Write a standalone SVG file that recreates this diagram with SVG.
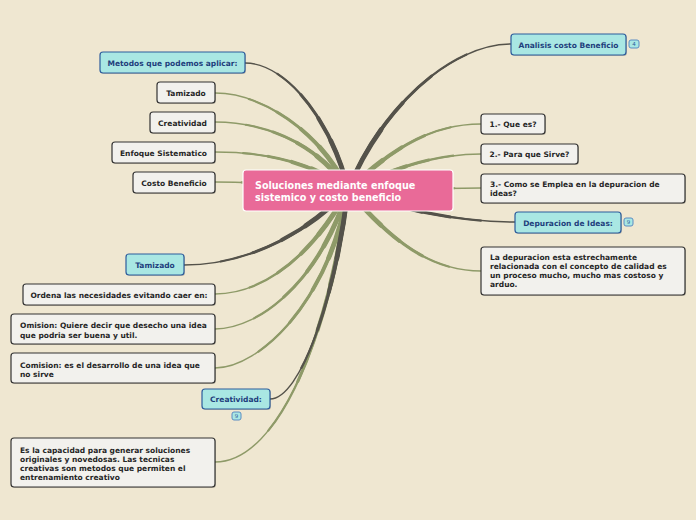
<svg xmlns="http://www.w3.org/2000/svg" xmlns:xlink="http://www.w3.org/1999/xlink" width="696" height="520" viewBox="0 0 696 520">
<style>
  .bg{fill:#efe7d1}
  .w rect.b{fill:#f2f1ed;stroke:#333;stroke-width:1.2}
  .c rect.b{fill:#a9e7e3;stroke:#2d5c9c;stroke-width:1.2}
  rect.s{fill:#000;opacity:0.18}
  .w text{font-family:"DejaVu Sans",Verdana,sans-serif;font-weight:bold;font-size:7.5px;fill:#262626}
  .c text{font-family:"DejaVu Sans",Verdana,sans-serif;font-weight:bold;font-size:7.5px;fill:#1e3e7c}
  .m{text-anchor:middle}
  .root text{font-family:"DejaVu Sans",Verdana,sans-serif;font-weight:bold;font-size:9.6px;fill:#fff}
  .badge rect{fill:#a9e7e3;stroke:#5b8cc2;stroke-width:1}
  .badge text{font-family:"DejaVu Sans",sans-serif;font-size:5.5px;fill:#2d5c9c;text-anchor:middle}
  .g{stroke:#8e9a68;fill:none;stroke-linecap:round}
  .d{stroke:#54524a;fill:none;stroke-linecap:round}
  .t1{stroke-width:1.4}
  .t2{stroke-width:2.2;stroke-dasharray:80 200}
  .t3{stroke-width:3;stroke-dasharray:62 200}
  .t4{stroke-width:3.9;stroke-dasharray:45 200}
  .t5{stroke-width:4.8;stroke-dasharray:30 200}
</style>
<defs>
  <path id="p1" pathLength="100" d="M348 190 C335 130 290 63 245 63"/>
  <path id="p2" pathLength="100" d="M348 190 C320 130 260 93 215 93"/>
  <path id="p3" pathLength="100" d="M348 190 C315 140 260 122 215 122"/>
  <path id="p4" pathLength="100" d="M348 190 C310 160 260 152 215 152"/>
  <path id="p5" pathLength="100" d="M348 190 C300 185 260 182 215 182"/>
  <path id="p6" pathLength="100" d="M348 190 C300 240 240 265 184 265"/>
  <path id="p7" pathLength="100" d="M348 190 C310 260 260 294 215 294"/>
  <path id="p8" pathLength="100" d="M348 190 C320 280 260 329 215 329"/>
  <path id="p9" pathLength="100" d="M348 190 C330 300 260 368 215 368"/>
  <path id="p10" pathLength="100" d="M348 190 C335 300 300 399 270 399"/>
  <path id="p11" pathLength="100" d="M348 190 C330 330 280 462 215 462"/>
  <path id="p12" pathLength="100" d="M348 190 C380 110 450 44 511 44"/>
  <path id="p13" pathLength="100" d="M348 190 C390 150 430 124 481 124"/>
  <path id="p14" pathLength="100" d="M348 190 C400 165 440 154 481 154"/>
  <path id="p15" pathLength="100" d="M348 190 C400 190 440 188 481 188"/>
  <path id="p16" pathLength="100" d="M348 190 C400 210 460 222 515 222"/>
  <path id="p17" pathLength="100" d="M348 190 C390 240 430 271 481 271"/>
</defs>
<rect class="bg" x="0" y="0" width="696" height="520"/>
<g id="connectors">
  <g class="g">
    <use xlink:href="#p2" class="t1"/><use xlink:href="#p2" class="t2"/><use xlink:href="#p2" class="t3"/><use xlink:href="#p2" class="t4"/><use xlink:href="#p2" class="t5"/>
    <use xlink:href="#p3" class="t1"/><use xlink:href="#p3" class="t2"/><use xlink:href="#p3" class="t3"/><use xlink:href="#p3" class="t4"/><use xlink:href="#p3" class="t5"/>
    <use xlink:href="#p4" class="t1"/><use xlink:href="#p4" class="t2"/><use xlink:href="#p4" class="t3"/><use xlink:href="#p4" class="t4"/><use xlink:href="#p4" class="t5"/>
    <use xlink:href="#p5" class="t1"/><use xlink:href="#p5" class="t2"/><use xlink:href="#p5" class="t3"/><use xlink:href="#p5" class="t4"/><use xlink:href="#p5" class="t5"/>
    <use xlink:href="#p7" class="t1"/><use xlink:href="#p7" class="t2"/><use xlink:href="#p7" class="t3"/><use xlink:href="#p7" class="t4"/><use xlink:href="#p7" class="t5"/>
    <use xlink:href="#p8" class="t1"/><use xlink:href="#p8" class="t2"/><use xlink:href="#p8" class="t3"/><use xlink:href="#p8" class="t4"/><use xlink:href="#p8" class="t5"/>
    <use xlink:href="#p9" class="t1"/><use xlink:href="#p9" class="t2"/><use xlink:href="#p9" class="t3"/><use xlink:href="#p9" class="t4"/><use xlink:href="#p9" class="t5"/>
    <use xlink:href="#p11" class="t1"/><use xlink:href="#p11" class="t2"/><use xlink:href="#p11" class="t3"/><use xlink:href="#p11" class="t4"/><use xlink:href="#p11" class="t5"/>
    <use xlink:href="#p13" class="t1"/><use xlink:href="#p13" class="t2"/><use xlink:href="#p13" class="t3"/><use xlink:href="#p13" class="t4"/><use xlink:href="#p13" class="t5"/>
    <use xlink:href="#p14" class="t1"/><use xlink:href="#p14" class="t2"/><use xlink:href="#p14" class="t3"/><use xlink:href="#p14" class="t4"/><use xlink:href="#p14" class="t5"/>
    <use xlink:href="#p15" class="t1"/><use xlink:href="#p15" class="t2"/><use xlink:href="#p15" class="t3"/><use xlink:href="#p15" class="t4"/><use xlink:href="#p15" class="t5"/>
    <use xlink:href="#p17" class="t1"/><use xlink:href="#p17" class="t2"/><use xlink:href="#p17" class="t3"/><use xlink:href="#p17" class="t4"/><use xlink:href="#p17" class="t5"/>
  </g>
  <g class="d">
    <use xlink:href="#p1" class="t1"/><use xlink:href="#p1" class="t2"/><use xlink:href="#p1" class="t3"/><use xlink:href="#p1" class="t4"/><use xlink:href="#p1" class="t5"/>
    <use xlink:href="#p6" class="t1"/><use xlink:href="#p6" class="t2"/><use xlink:href="#p6" class="t3"/><use xlink:href="#p6" class="t4"/><use xlink:href="#p6" class="t5"/>
    <use xlink:href="#p10" class="t1"/><use xlink:href="#p10" class="t2"/><use xlink:href="#p10" class="t3"/><use xlink:href="#p10" class="t4"/><use xlink:href="#p10" class="t5"/>
    <use xlink:href="#p12" class="t1"/><use xlink:href="#p12" class="t2"/><use xlink:href="#p12" class="t3"/><use xlink:href="#p12" class="t4"/><use xlink:href="#p12" class="t5"/>
    <use xlink:href="#p16" class="t1"/><use xlink:href="#p16" class="t2"/><use xlink:href="#p16" class="t3"/><use xlink:href="#p16" class="t4"/><use xlink:href="#p16" class="t5"/>
  </g>
</g>

<g id="root" class="root">
  <rect x="243" y="170" width="210" height="41" rx="3" fill="#e96a98" stroke="#fff" stroke-width="1.2"/>
  <text x="255" y="189">Soluciones mediante enfoque</text>
  <text x="255" y="200.5">sistemico y costo beneficio</text>
</g>

<g id="metodos" class="c">
  <rect class="s" x="101" y="53" width="145" height="21" rx="3"/>
  <rect class="b" x="100" y="52" width="145" height="21" rx="3"/>
  <text class="m" x="172.5" y="65.5">Metodos que podemos aplicar:</text>
</g>
<g id="tamizado1" class="w">
  <rect class="s" x="158" y="83" width="58" height="21" rx="3"/>
  <rect class="b" x="157" y="82" width="58" height="21" rx="3"/>
  <text class="m" x="186" y="95.5">Tamizado</text>
</g>
<g id="creatividad1" class="w">
  <rect class="s" x="151" y="113" width="65" height="21" rx="3"/>
  <rect class="b" x="150" y="112" width="65" height="21" rx="3"/>
  <text class="m" x="182.5" y="125.5">Creatividad</text>
</g>
<g id="enfoque" class="w">
  <rect class="s" x="113" y="143" width="103" height="21" rx="3"/>
  <rect class="b" x="112" y="142" width="103" height="21" rx="3"/>
  <text class="m" x="163.5" y="155.5">Enfoque Sistematico</text>
</g>
<g id="costo" class="w">
  <rect class="s" x="134" y="173" width="82" height="21" rx="3"/>
  <rect class="b" x="133" y="172" width="82" height="21" rx="3"/>
  <text class="m" x="174" y="185.5">Costo Beneficio</text>
</g>

<g id="tamizado2" class="c">
  <rect class="s" x="127" y="255" width="58" height="21" rx="3"/>
  <rect class="b" x="126" y="254" width="58" height="21" rx="3"/>
  <text class="m" x="155" y="267.5">Tamizado</text>
</g>
<g id="ordena" class="w">
  <rect class="s" x="24" y="285" width="192" height="21" rx="3"/>
  <rect class="b" x="23" y="284" width="192" height="21" rx="3"/>
  <text class="m" x="119" y="297.5">Ordena las necesidades evitando caer en:</text>
</g>
<g id="omision" class="w">
  <rect class="s" x="12" y="315" width="204" height="30" rx="3"/>
  <rect class="b" x="11" y="314" width="204" height="30" rx="3"/>
  <text x="20" y="328">Omision: Quiere decir que desecho una idea</text>
  <text x="20" y="337.5">que podria ser buena y util.</text>
</g>
<g id="comision" class="w">
  <rect class="s" x="12" y="354" width="204" height="30" rx="3"/>
  <rect class="b" x="11" y="353" width="204" height="30" rx="3"/>
  <text x="20" y="367.5">Comision: es el desarrollo de una idea que</text>
  <text x="20" y="377">no sirve</text>
</g>
<g id="creatividad2" class="c">
  <rect class="s" x="203" y="390" width="68" height="20" rx="3"/>
  <rect class="b" x="202" y="389" width="68" height="20" rx="3"/>
  <text class="m" x="236" y="402">Creatividad:</text>
</g>
<g class="badge">
  <rect x="232" y="412" width="9" height="8" rx="2"/>
  <text x="236.5" y="418">9</text>
</g>
<g id="capacidad" class="w">
  <rect class="s" x="12" y="439" width="204" height="49" rx="3"/>
  <rect class="b" x="11" y="438" width="204" height="49" rx="3"/>
  <text x="20" y="453">Es la capacidad para generar soluciones</text>
  <text x="20" y="462">originales y novedosas. Las tecnicas</text>
  <text x="20" y="471">creativas son metodos que permiten el</text>
  <text x="20" y="479.5">entrenamiento creativo</text>
</g>

<g id="analisis" class="c">
  <rect class="s" x="512" y="35" width="115" height="21" rx="3"/>
  <rect class="b" x="511" y="34" width="115" height="21" rx="3"/>
  <text class="m" x="568.5" y="47.5">Analisis costo Beneficio</text>
</g>
<g class="badge">
  <rect x="629" y="40" width="10" height="8" rx="2"/>
  <text x="634" y="46">4</text>
</g>
<g id="quees" class="w">
  <rect class="s" x="482" y="115" width="64" height="20" rx="3"/>
  <rect class="b" x="481" y="114" width="64" height="20" rx="3"/>
  <text class="m" x="513" y="127">1.- Que es?</text>
</g>
<g id="parque" class="w">
  <rect class="s" x="482" y="145" width="97" height="20" rx="3"/>
  <rect class="b" x="481" y="144" width="97" height="20" rx="3"/>
  <text class="m" x="529.5" y="157">2.- Para que Sirve?</text>
</g>
<g id="como" class="w">
  <rect class="s" x="482" y="175" width="204" height="29" rx="3"/>
  <rect class="b" x="481" y="174" width="204" height="29" rx="3"/>
  <text x="490" y="187">3.- Como se Emplea en la depuracion de</text>
  <text x="490" y="196">ideas?</text>
</g>
<g id="depuracion" class="c">
  <rect class="s" x="516" y="213" width="106" height="21" rx="3"/>
  <rect class="b" x="515" y="212" width="106" height="21" rx="3"/>
  <text class="m" x="568" y="225.5">Depuracion de Ideas:</text>
</g>
<g class="badge">
  <rect x="624" y="218" width="9" height="8" rx="2"/>
  <text x="628.5" y="224">9</text>
</g>
<g id="ladepuracion" class="w">
  <rect class="s" x="482" y="248" width="204" height="48" rx="3"/>
  <rect class="b" x="481" y="247" width="204" height="48" rx="3"/>
  <text x="490" y="259.5">La depuracion esta estrechamente</text>
  <text x="490" y="268.5">relacionada con el concepto de calidad es</text>
  <text x="490" y="277.5">un proceso mucho, mucho mas costoso y</text>
  <text x="490" y="286.5">arduo.</text>
</g>
</svg>
